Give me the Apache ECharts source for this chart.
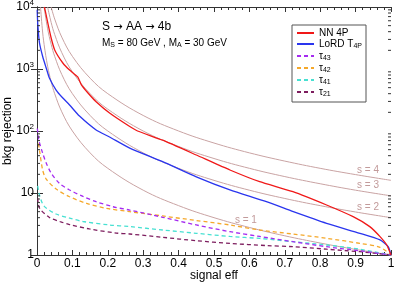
<!DOCTYPE html>
<html><head><meta charset="utf-8">
<script src="https://cdn.jsdelivr.net/npm/echarts@6/dist/echarts.min.js"></script>
<style>html,body{margin:0;padding:0;background:#fff}#c{width:394px;height:284px}</style>
</head><body><div id="c"></div>
<script>
// ---- data ----
const effNN  = [0.021,0.03,0.04,0.05,0.073,0.092,0.115,0.125,0.144,0.167,0.205,0.262,0.284,0.355,0.45,0.545,0.629,0.723,0.818,0.893,0.94,0.969,0.988,1.0];
const rejNN  = [10000,5700,3160,2030,1250,960,745,560,410,297,195,118,100,71,41,23.5,15.2,10.5,6.4,4.15,2.87,1.98,1.45,1.0];
const effLoRD = [0.0005,0.002,0.007,0.0164,0.026,0.035,0.054,0.073,0.092,0.12,0.167,0.205,0.262,0.355,0.45,0.545,0.648,0.724,0.818,0.912,0.969,0.992,1.0];
const rejLoRD = [9000,5500,2630,1560,1040,716,458,340,263,174,104,80,53,32,18.2,11.2,7.25,5.0,3.24,2.24,1.75,1.36,1.0];
const eff43 = [0.001,0.005,0.016,0.026,0.04,0.064,0.092,0.13,0.167,0.215,0.262,0.355,0.45,0.545,0.629,0.723,0.818,0.912,1.0];
const rej43 = [110,72,44,30.4,21,14.2,11.2,8.8,7.24,6.0,5.3,4.06,3.05,2.38,1.99,1.64,1.36,1.17,1.0];
const eff42 = [0.004,0.007,0.016,0.026,0.054,0.092,0.14,0.196,0.262,0.355,0.45,0.545,0.629,0.723,0.818,0.912,0.969,1.0];
const rej42 = [63,49,23.5,16.8,11.6,8.7,6.8,5.66,5.0,4.26,3.6,3.05,2.53,2.18,1.86,1.54,1.33,1.0];
const eff41 = [0.002,0.007,0.016,0.026,0.054,0.092,0.13,0.205,0.262,0.355,0.45,0.545,0.629,0.723,0.818,0.912,1.0];
const rej41 = [13,9.3,6.65,5.73,4.58,3.95,3.47,3.05,2.88,2.53,2.24,1.99,1.85,1.64,1.45,1.24,1.0];
const eff21 = [0.002,0.007,0.035,0.064,0.092,0.148,0.224,0.262,0.355,0.45,0.545,0.648,0.723,0.818,0.912,1.0];
const rej21 = [8.3,5.73,4.03,3.47,3.1,2.63,2.26,2.18,1.93,1.70,1.54,1.42,1.36,1.24,1.13,1.0];
// significance curves s = 1..4
const effS1 = [0.01,0.015,0.02,0.03,0.04,0.05,0.07,0.1,0.15,0.2,0.3,0.4,0.5,0.6,0.7,0.8,0.9,1.0];
const rejS1 = [10000,4444,2500,1111,625,400,204,100,44.4,25,11.1,6.25,4,2.78,2.04,1.56,1.23,1];
const effS2 = [0.02,0.03,0.04,0.05,0.07,0.1,0.15,0.2,0.3,0.4,0.5,0.6,0.7,0.8,0.9,1.0];
const rejS2 = [10000,4444,2500,1600,816,400,178,100,44.4,25,16,11.1,8.16,6.25,4.94,4];
const effS3 = [0.03,0.04,0.05,0.07,0.1,0.15,0.2,0.3,0.4,0.5,0.6,0.7,0.8,0.9,1.0];
const rejS3 = [10000,5625,3600,1837,900,400,225,100,56.3,36,25,18.4,14.1,11.1,9];
const effS4 = [0.04,0.05,0.07,0.1,0.15,0.2,0.3,0.4,0.5,0.6,0.7,0.8,0.9,1.0];
const rejS4 = [10000,6400,3265,1600,711,400,178,100,64,44.4,32.7,25,19.8,16];
const sLabels = ['s = 1','s = 2','s = 3','s = 4'];
const sLabelPos = [[0.59,3.7],[0.935,5.8],[0.935,13.4],[0.935,23]];
const yMinorTicks = [];
[1,10,100,1000].forEach(d=>{for(let k=2;k<=9;k++) yMinorTicks.push(k*d);});

const zip = (a,b)=>a.map((v,i)=>[v,b[i]]);
const FONT = '"Liberation Sans", Arial, sans-serif';
const PINK = '#c9a3a3';

const chart = echarts.init(document.getElementById('c'), null, {renderer:'canvas'});
const axisLineStyle = {color:'#333', width:1};
function sSeries(name, e, r, idx){
  return {name, type:'line', data:zip(e,r), showSymbol:false, symbol:'none', smooth:0.4,
    lineStyle:{color:PINK, width:1}, z:1, silent:true,
    markPoint:{symbol:'circle', symbolSize:0, silent:true,
      label:{show:true, formatter:sLabels[idx], color:'#c29a9a', fontSize:10, fontFamily:FONT},
      data:[{coord:sLabelPos[idx]}]}};
}
function tSeries(name, e, r, color){
  return {name, type:'line', data:zip(e,r), showSymbol:false, symbol:'none', symbolSize:0, smooth:0.3,
    lineStyle:{color, width:1.3, type:[4,3]}, itemStyle:{color}, z:3};
}
const option = {
  animation:false,
  grid:{left:37, right:3, top:7, bottom:29, containLabel:false, outerBoundsMode:'none'},
  xAxis:[{type:'value', min:0, max:1, interval:0.1, position:'bottom',
      name:'signal eff', nameLocation:'middle', nameGap:15, nameMoveOverlap:false,
      nameTextStyle:{fontSize:12, color:'#000', fontFamily:FONT},
      axisLine:{show:true, lineStyle:axisLineStyle},
      axisTick:{show:true, inside:true, length:5, lineStyle:axisLineStyle},
      minorTick:{show:true, splitNumber:5, length:3, lineStyle:axisLineStyle},
      splitLine:{show:false},
      axisLabel:{fontSize:12, color:'#000', margin:3, fontFamily:FONT,
        formatter:v=>String(+v.toFixed(1))}},
    {type:'value', min:0, max:1, interval:0.1, position:'top',
      axisLine:{show:true, lineStyle:axisLineStyle},
      axisTick:{show:true, inside:true, length:5, lineStyle:axisLineStyle},
      minorTick:{show:true, splitNumber:5, length:3, lineStyle:axisLineStyle},
      splitLine:{show:false}, axisLabel:{show:false}}],
  yAxis:[{type:'log', logBase:10, min:1, max:10000, position:'left',
      name:'bkg rejection', nameLocation:'middle', nameGap:23, nameMoveOverlap:false,
      nameTextStyle:{fontSize:12, color:'#000', fontFamily:FONT},
      axisLine:{show:true, lineStyle:axisLineStyle},
      axisTick:{show:true, inside:true, length:6, lineStyle:axisLineStyle},
      splitLine:{show:false},
      axisLabel:{fontSize:12, color:'#000', margin:3, fontFamily:FONT,
        formatter:v=>{const e=Math.round(Math.log10(v)); if(e===0) return '1'; if(e===1) return '10'; return '10{sup|'+e+'}';},
        rich:{sup:{fontSize:8, verticalAlign:'bottom', padding:[0,0,8,0], fontFamily:FONT, color:'#000'}}}},
    {type:'log', logBase:10, min:1, max:10000, position:'right',
      axisLine:{show:true, lineStyle:axisLineStyle},
      axisTick:{show:true, inside:true, length:6, lineStyle:axisLineStyle},
      splitLine:{show:false}, axisLabel:{show:false}}],
  legend:{
    data:['NN 4P','LoRD T4P','t43','t42','t41','t21'],
    orient:'vertical', left:292, top:25,
    backgroundColor:'#fff', borderColor:'#555', borderWidth:1, borderRadius:0,
    padding:[3,4,4,4], itemWidth:17, itemHeight:8, itemGap:1,
    itemStyle:{opacity:0},
    textStyle:{fontSize:10, color:'#000', fontFamily:FONT,
      rich:{sub:{fontSize:7, verticalAlign:'top', padding:[5,0,0,0], fontFamily:FONT, color:'#000'}}},
    formatter:n=>{
      if(n==='LoRD T4P') return 'LoRD T{sub|4P}';
      if(n[0]==='t') return 'τ{sub|'+n.slice(1)+'}';
      return n;
    }
  },
  graphic:[
    {type:'text', left:102, top:21, style:{text:'S {a|→} AA {a|→} 4b', fontSize:12, fill:'#000', fontFamily:FONT,
      rich:{a:{fontFamily:'"DejaVu Sans", sans-serif', fontSize:11, fill:'#000'}}}},
    {type:'text', left:102, top:38, style:{
      text:'M{s|S} = 80 GeV , M{s|A} = 30 GeV', fontSize:10, fill:'#000', fontFamily:FONT,
      rich:{s:{fontSize:7, verticalAlign:'top', padding:[5,0,0,0], fontFamily:FONT, fill:'#000'}}}}
  ],
  series:[
    sSeries('s1', effS1, rejS1, 0),
    sSeries('s2', effS2, rejS2, 1),
    sSeries('s3', effS3, rejS3, 2),
    sSeries('s4', effS4, rejS4, 3),
    tSeries('t21', eff21, rej21, '#7d1d5e'),
    tSeries('t41', eff41, rej41, '#47e0d2'),
    tSeries('t42', eff42, rej42, '#f5a82a'),
    tSeries('t43', eff43, rej43, '#a52bf0'),
    {name:'LoRD T4P', type:'line', data:zip(effLoRD, rejLoRD), showSymbol:false, symbol:'none', symbolSize:0, smooth:0.2,
      lineStyle:{color:'#2a35ee', width:1.3}, itemStyle:{color:'#2a35ee'}, z:4},
    {name:'NN 4P', type:'line', data:zip(effNN, rejNN), showSymbol:false, symbol:'none', symbolSize:0, smooth:0.15,
      lineStyle:{color:'#f01818', width:1.3}, itemStyle:{color:'#f01818'}, z:5},
    {name:'minorY', type:'custom', silent:true, z:6,
      data:yMinorTicks.map(v=>[0,v]),
      renderItem:(params, api)=>{
        const cs = params.coordSys;
        const y = api.coord([0, api.value(1)])[1];
        const st = {stroke:'#333', lineWidth:1};
        return {type:'group', children:[
          {type:'line', shape:{x1:cs.x, y1:y, x2:cs.x+3, y2:y}, style:st},
          {type:'line', shape:{x1:cs.x+cs.width-3, y1:y, x2:cs.x+cs.width, y2:y}, style:st}
        ]};
      }}
  ]
};
chart.setOption(option);
</script></body></html>
